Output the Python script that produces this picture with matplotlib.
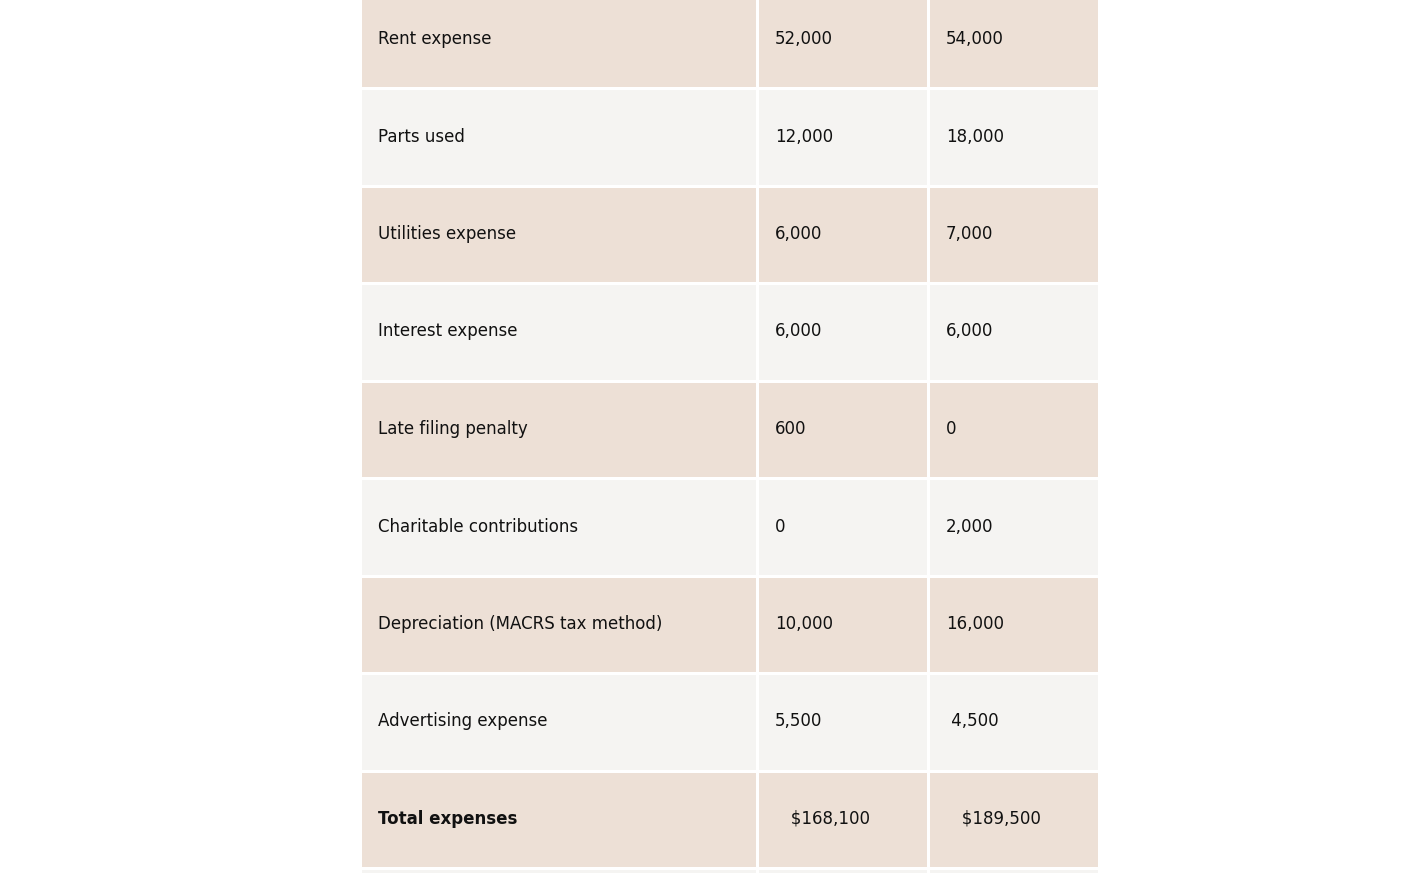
import matplotlib
matplotlib.use("Agg")
import matplotlib.pyplot as plt
from matplotlib.patches import Rectangle

categories = ["Rent expense", "Parts used", "Utilities expense", "Interest expense",
              "Late filing penalty", "Charitable contributions",
              "Depreciation (MACRS tax method)", "Advertising expense", "Total expenses"]
col1 = ["52,000", "12,000", "6,000", "6,000", "600", "0", "10,000", "5,500", "   $168,100"]
col2 = ["54,000", "18,000", "7,000", "6,000", "0", "2,000", "16,000", " 4,500", "   $189,500"]

W, H = 1415, 873
fig = plt.figure(figsize=(W/100, H/100), dpi=100)
ax = fig.add_axes([0, 0, 1, 1])
ax.set_xlim(0, W); ax.set_ylim(H, 0); ax.axis("off")

tan, light = "#EDE0D6", "#F5F4F2"
cols = [(362, 394), (759, 168), (930, 168)]
pitch = 97.5
top0 = -7.5
rowh = 94.5
n = len(categories) + 1
for i in range(n):
    y = top0 + i * pitch
    c = tan if i % 2 == 0 else light
    for x, w in cols:
        ax.add_patch(Rectangle((x, y), w, rowh, facecolor=c, edgecolor="none"))
    if i < len(categories):
        cy = y + 46.5
        bold = categories[i] == "Total expenses"
        for (x, w), t in zip(cols, [categories[i], col1[i], col2[i]]):
            ax.text(x + 16, cy, t, fontsize=12, va="center", ha="left",
                    color="#111111", family="DejaVu Sans",
                    fontweight="bold" if bold and t == categories[i] else "normal")

fig.savefig("out.png", dpi=100, facecolor="white")
